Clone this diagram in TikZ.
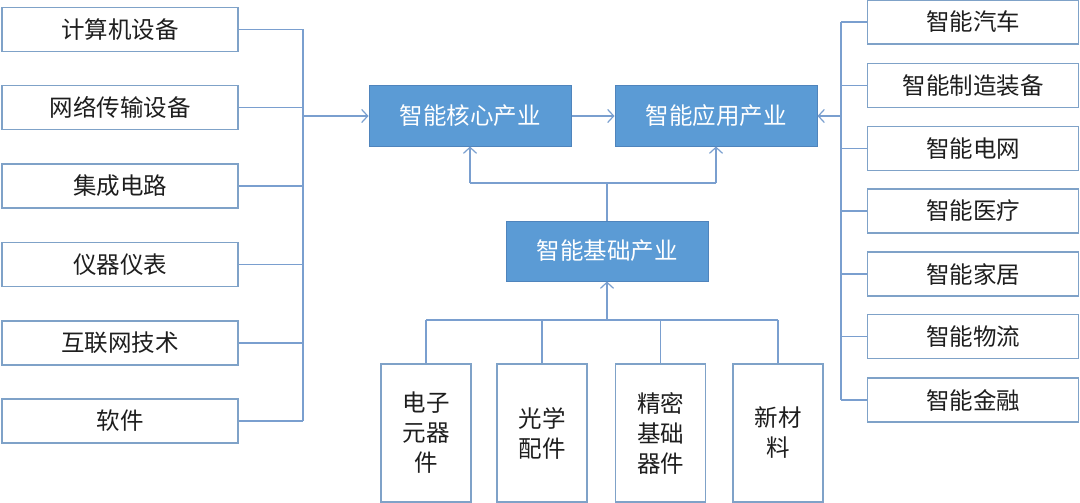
\documentclass[tikz,border=0pt]{standalone}
\usepackage{fontspec}
\setmainfont{Noto Sans CJK SC}
\usetikzlibrary{arrows.meta}
\definecolor{wborder}{HTML}{7FA2C8}
\definecolor{lnc}{HTML}{7A9FCF}
\definecolor{bfill}{HTML}{5B9BD5}
\definecolor{bborder}{HTML}{4F84BC}
\definecolor{txt}{HTML}{1E1E1E}
\tikzset{
  wbox/.style={draw=wborder, line width=1.4pt, fill=white, text=txt, inner sep=0pt, font=\fontsize{23.5}{30}\selectfont},
  lbox/.style={wbox, minimum width=236pt, minimum height=44pt},
  rbox/.style={wbox, minimum width=211pt, minimum height=44pt},
  bbox/.style={wbox, minimum width=90pt, minimum height=138pt, align=center},
  cbox/.style={draw=bborder, line width=1pt, fill=bfill, text=white, inner sep=0pt, minimum width=202pt, minimum height=60pt, font=\fontsize{23.5}{30}\selectfont},
  conn/.style={draw=lnc, line width=1.4pt},
  arr/.style={conn, -{Straight Barb[length=6pt,width=13pt,line width=1.2pt]}}
}
\begin{document}
\begin{tikzpicture}[x=1pt,y=-1pt]
\useasboundingbox (0,0) rectangle (1080,503);
% left boxes
\node[lbox] (L1) at (120,29.5) {计算机设备};
\node[lbox] (L2) at (120,107.5) {网络传输设备};
\node[lbox] (L3) at (120,186) {集成电路};
\node[lbox] (L4) at (120,264.5) {仪器仪表};
\node[lbox] (L5) at (120,343) {互联网技术};
\node[lbox] (L6) at (120,421) {软件};
% right boxes
\node[rbox] (R1) at (973,22) {智能汽车};
\node[rbox] (R2) at (973,85.5) {智能制造装备};
\node[rbox] (R3) at (973,148.5) {智能电网};
\node[rbox] (R4) at (973,211) {智能医疗};
\node[rbox] (R5) at (973,274) {智能家居};
\node[rbox] (R6) at (973,336.5) {智能物流};
\node[rbox] (R7) at (973,400) {智能金融};
% center boxes
\node[cbox] (core) at (470,116) {智能核心产业};
\node[cbox] (app) at (716,116) {智能应用产业};
\node[cbox] (base) at (607,251) {智能基础产业};
% bottom boxes
\node[bbox] (B1) at (426,433) {电子\\元器\\件};
\node[bbox] (B2) at (542,433) {光学\\配件};
\node[bbox] (B3) at (660.5,433) {精密\\基础\\器件};
\node[bbox] (B4) at (778,433) {新材\\料};
% bus coordinates
\coordinate (lbus) at (303,0);
\coordinate (rbus) at (841,0);
\coordinate (mj) at (0,183);
\coordinate (bj) at (0,320);
% left bus
\foreach \n in {L1,L2,L3,L4,L5,L6}{
  \draw[conn] (\n.east) -- (\n.east -| lbus);
}
\draw[conn] (L1.east -| lbus) -- (L6.east -| lbus);
\draw[arr] (core.west -| lbus) -- (core.west);
% right bus
\foreach \n in {R1,R2,R3,R4,R5,R6,R7}{
  \draw[conn] (\n.west) -- (\n.west -| rbus);
}
\draw[conn] (R1.west -| rbus) -- (R7.west -| rbus);
\draw[arr] (app.east -| rbus) -- (app.east);
% core -> app
\draw[arr] (core.east) -- (app.west);
% base -> core, app
\draw[conn] (base.north) -- (base.north |- mj);
\draw[conn] (core.south |- mj) -- (app.south |- mj);
\draw[arr] (core.south |- mj) -- (core.south);
\draw[arr] (app.south |- mj) -- (app.south);
% bottom -> base
\foreach \n in {B1,B2,B3,B4}{
  \draw[conn] (\n.north) -- (\n.north |- bj);
}
\draw[conn] (B1.north |- bj) -- (B4.north |- bj);
\draw[arr] (base.south |- bj) -- (base.south);
\end{tikzpicture}
\end{document}
